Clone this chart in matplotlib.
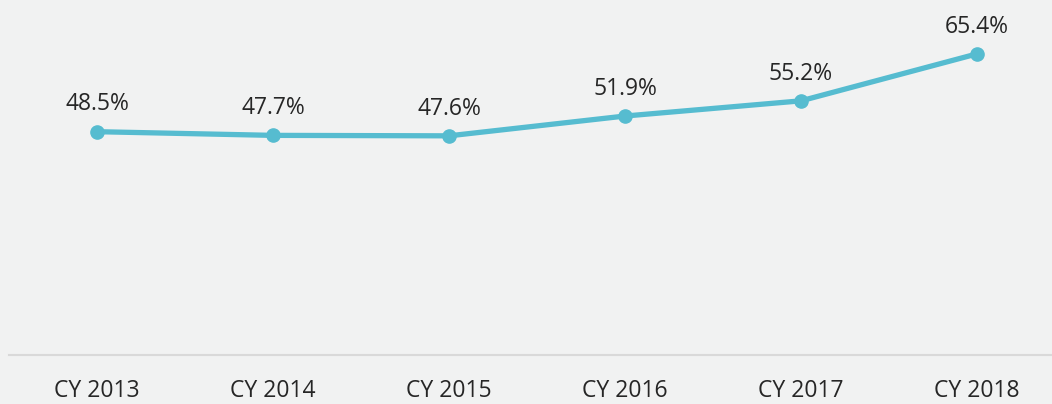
import matplotlib.pyplot as plt

years = ["CY 2013", "CY 2014", "CY 2015", "CY 2016", "CY 2017", "CY 2018"]
share = [48.5, 47.7, 47.6, 51.9, 55.2, 65.4]

bg = "#F1F2F2"
teal = "#56BCD0"

plt.rcParams['font.family'] = ['Open Sans', 'DejaVu Sans']

fig = plt.figure(figsize=(10.52, 4.04), dpi=100, facecolor=bg)
ax = fig.add_axes([9 / 1052, 49 / 404, 1043 / 1052, 355 / 404])
ax.set_facecolor(bg)

x = list(range(len(years)))
ax.plot(x, share, color=teal, lw=3.8, marker="o", ms=9.5, solid_capstyle="round")
for xi, v in zip(x, share):
    ax.annotate(f"{v}%", (xi, v), xytext=(0, 11), textcoords="offset points",
                ha="center", va="bottom", fontsize=16.5, color="#262626")

ax.set_xlim(-0.5, 1043 / 176 - 0.5)
ax.set_ylim(0, 77.1)
ax.set_xticks(x)
ax.set_xticklabels(years, fontsize=16.5, color="#262626")
ax.set_yticks([])
ax.tick_params(axis="x", length=0, pad=17)
for s in ["top", "left", "right"]:
    ax.spines[s].set_visible(False)
ax.spines["bottom"].set_color("#D9D9D9")
ax.spines["bottom"].set_linewidth(1.5)

fig.savefig("out.png", dpi=100, facecolor=bg)
